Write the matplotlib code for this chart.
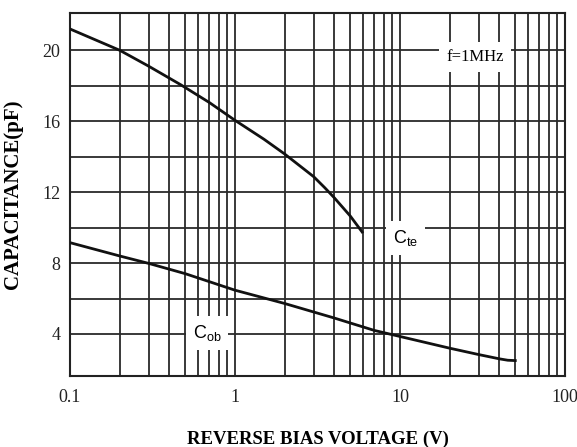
import numpy as np
import matplotlib
matplotlib.use("Agg")
import matplotlib.pyplot as plt
from matplotlib.ticker import FixedLocator, NullFormatter

# ---------------------------------------------------------
# data (V, pF)
# ---------------------------------------------------------
CTE_V = [0.1, 0.2, 0.3, 0.47, 0.7, 1.0, 1.5, 2.0, 3.0, 3.5, 4.0, 5.0, 5.9]
CTE_C = [21.2, 20.0, 19.1, 18.05, 17.05, 16.05, 14.98, 14.15, 12.87, 12.25, 11.68, 10.65, 9.75]

COB_V = [0.1, 0.2, 0.3, 0.5, 1.0, 2.0, 3.0, 4.0, 5.0, 7.0, 10.0, 20.0, 30.0, 40.0, 45.0, 50.0]
COB_C = [9.15, 8.4, 7.98, 7.4, 6.47, 5.72, 5.24, 4.9, 4.62, 4.2, 3.86, 3.2, 2.84, 2.6, 2.52, 2.5]

X_TICKS = [0.1, 1, 10, 100]
X_TICK_LABELS = ["0.1", "1", "10", "100"]
Y_TICKS = [4, 8, 12, 16, 20]
Y_GRID = [4, 6, 8, 10, 12, 14, 16, 18, 20]

SERIF = ["Liberation Serif", "DejaVu Serif"]
SANS = ["Liberation Sans", "DejaVu Sans"]


def main():
    fig = plt.figure(figsize=(5.77, 4.47), dpi=100)
    ax = fig.add_axes([0.1213, 0.1588, 0.8578, 0.8121])

    ax.set_xscale("log")
    ax.set_xlim(0.1, 100)
    ax.set_ylim(1.63, 22.1)

    # grid
    minor_x = [m * 10.0 ** e for e in (-1, 0, 1) for m in range(2, 10)]
    ax.xaxis.set_major_locator(FixedLocator(X_TICKS))
    ax.xaxis.set_minor_locator(FixedLocator(minor_x))
    ax.xaxis.set_minor_formatter(NullFormatter())
    ax.set_xticklabels(X_TICK_LABELS)
    ax.yaxis.set_major_locator(FixedLocator(Y_TICKS))
    ax.yaxis.set_minor_locator(FixedLocator(Y_GRID))
    ax.grid(True, which="both", color="#2a2a2a", linewidth=1.3)
    ax.set_axisbelow(True)
    ax.tick_params(which="both", length=0)
    ax.tick_params(axis="x", pad=9)
    ax.tick_params(axis="y", pad=7)
    for lab in ax.get_xticklabels() + ax.get_yticklabels():
        lab.set_family(SERIF)
        lab.set_fontsize(13)
        lab.set_color("#222222")
    for sp in ax.spines.values():
        sp.set_linewidth(1.5)
        sp.set_color("#222222")

    # curves
    ax.plot(CTE_V, CTE_C, color="#111111", linewidth=2.0, zorder=3)
    ax.plot(COB_V, COB_C, color="#111111", linewidth=2.0, zorder=3)

    # labels
    box = dict(facecolor="white", edgecolor="none", pad=5)
    ax.text(0.818, 0.879, "f=1MHz", transform=ax.transAxes, family=SERIF,
            fontsize=12, ha="center", va="center", bbox=box, zorder=4)
    ax.text(0.678, 0.380, r"C$_{\mathregular{te}}$", transform=ax.transAxes,
            family=SANS, fontsize=13, ha="center", va="center", bbox=box, zorder=4)
    ax.text(0.277, 0.118, r"C$_{\mathregular{ob}}$", transform=ax.transAxes,
            family=SANS, fontsize=13, ha="center", va="center", bbox=box, zorder=4)

    ax.set_xlabel("REVERSE BIAS VOLTAGE (V)", family=SERIF, fontsize=13.5,
                  fontweight="bold", labelpad=18)
    ax.set_ylabel("CAPACITANCE(pF)", family=SERIF, fontsize=15,
                  fontweight="bold", labelpad=14)

    fig.savefig("out.png", dpi=100)
    plt.close(fig)


if __name__ == "__main__":
    main()
